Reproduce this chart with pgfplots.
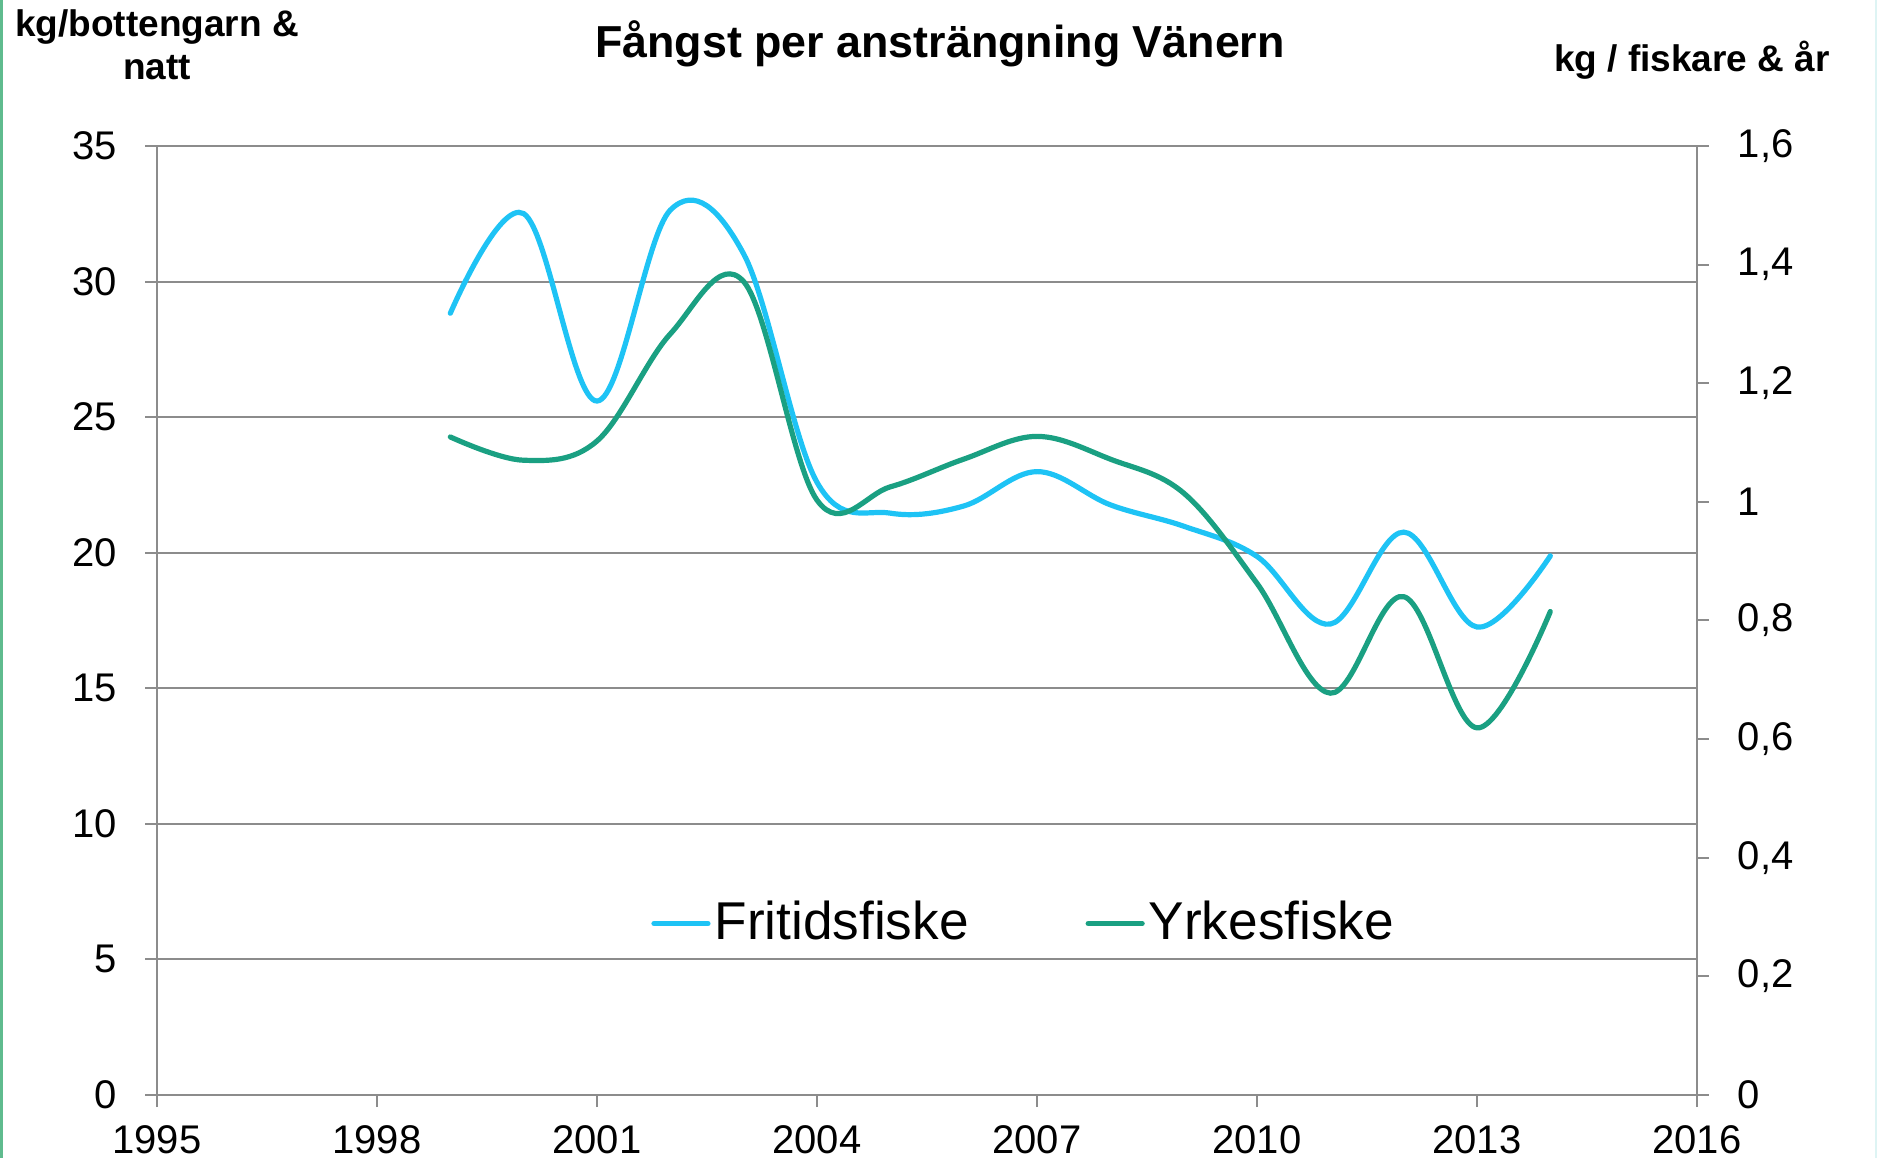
\documentclass[border=0pt]{standalone}
\usepackage{fontspec}
\setmainfont{Liberation Sans}
\usepackage{pgfplots}
\pgfplotsset{compat=1.18}
\definecolor{fblue}{RGB}{30,195,245}
\definecolor{ygreen}{RGB}{26,160,130}
\definecolor{gridgray}{RGB}{140,140,140}
\definecolor{edgegreen}{RGB}{95,187,142}
\definecolor{edgecyan}{RGB}{222,244,244}
\pgfplotsset{
  base/.style={
    scale only axis, width=385pt, height=237.25pt,
    at={(39.25pt,15.75pt)}, anchor=south west,
    xmin=1995, xmax=2016,
    /pgf/number format/assume math mode=true,
    tick label style={font=\fontsize{10}{12}\selectfont},
    major tick style={gridgray, line width=0.5pt},
    tick align=outside, major tick length=3pt,
    axis line style={gridgray, line width=0.5pt, -},
  }
}
\begin{document}
\begin{tikzpicture}
% axis A: left scale, grid, axes
\begin{axis}[base, ymin=0, ymax=35,
  axis x line*=bottom, axis y line*=left,
  xtick={1995,1998,2001,2004,2007,2010,2013,2016},
  xticklabels={1995,1998,2001,2004,2007,2010,2013,2016},
  ytick={0,5,10,15,20,25,30,35},
  yticklabels={0,5,10,15,20,25,30,35},
  ymajorgrids, grid style={gridgray, line width=0.5pt},
  yticklabel style={anchor=east, inner sep=0pt, xshift=-6.75pt},
  xticklabel style={anchor=north, inner sep=0pt, yshift=-4.5pt},
]
\addplot[draw=none] coordinates {(1995,0) (2016,35)};
\end{axis}
% axis B: right scale, Fritidsfiske
\begin{axis}[base, ymin=0, ymax=1.6,
  axis x line=none, axis y line*=right,
  ytick={0,0.2,0.4,0.6,0.8,1,1.2,1.4,1.6},
  yticklabels={0,{0,2},{0,4},{0,6},{0,8},1,{1,2},{1,4},{1,6}},
  yticklabel style={anchor=west, inner sep=0pt, xshift=7pt},
]
\addplot[fblue, line width=1.3pt, line cap=round, smooth, tension=0.6] coordinates {
(1999,1.318) (2000,1.486) (2001,1.170) (2002,1.492) (2003,1.418) (2004,1.033)
(2005,0.981) (2006,0.993) (2007,1.051) (2008,0.995) (2009,0.959) (2010,0.908)
(2011,0.794) (2012,0.949) (2013,0.789) (2014,0.909)};
\end{axis}
% axis C: left scale, Yrkesfiske + legend
\begin{axis}[base, ymin=0, ymax=35, hide axis,
  legend style={at={(0.3205,0.1806)}, anchor=west, draw=none, fill=none,
    inner sep=0pt, font=\fontsize{13.3}{16}\selectfont,
    nodes={inner xsep=1pt, inner ysep=0pt},
    /tikz/every even column/.append style={column sep=28.2pt}},
  legend columns=2, legend cell align=left,
  legend image code/.code={\draw[#1, line cap=round] (0pt,0pt) -- (13.5pt,0pt);},
]
\addlegendimage{fblue, line width=1.3pt}
\addlegendentry{Fritidsfiske}
\addplot[ygreen, line width=1.3pt, line cap=round, smooth, tension=0.6] coordinates {
(1999,24.27) (2000,23.41) (2001,24.12) (2002,28.07) (2003,30.0) (2004,21.94)
(2005,22.43) (2006,23.45) (2007,24.29) (2008,23.45) (2009,22.2) (2010,18.87)
(2011,14.82) (2012,18.38) (2013,13.54) (2014,17.83)};
\addlegendentry{Yrkesfiske}
\end{axis}
% titles and axis labels
\node[anchor=base, font=\bfseries\fontsize{11.2}{13}\selectfont] at (235pt,275.1pt) {Fångst per ansträngning Vänern};
\node[anchor=base, font=\bfseries\fontsize{9.25}{11}\selectfont] at (39.25pt,280.25pt) {kg/bottengarn \&};
\node[anchor=base, font=\bfseries\fontsize{9.25}{11}\selectfont] at (39.25pt,269.5pt) {natt};
\node[anchor=base, font=\bfseries\fontsize{9.25}{11}\selectfont] at (423pt,271.5pt) {kg / fiskare \& år};
\draw[edgegreen, line width=0.75pt] (0.375pt,0pt) -- (0.375pt,289.5pt);
\draw[edgecyan, line width=0.5pt] (469pt,0pt) -- (469pt,289.5pt);
\pgfresetboundingbox
\path[use as bounding box] (0pt,0pt) rectangle (469.25pt,289.5pt);
\end{tikzpicture}
\end{document}
